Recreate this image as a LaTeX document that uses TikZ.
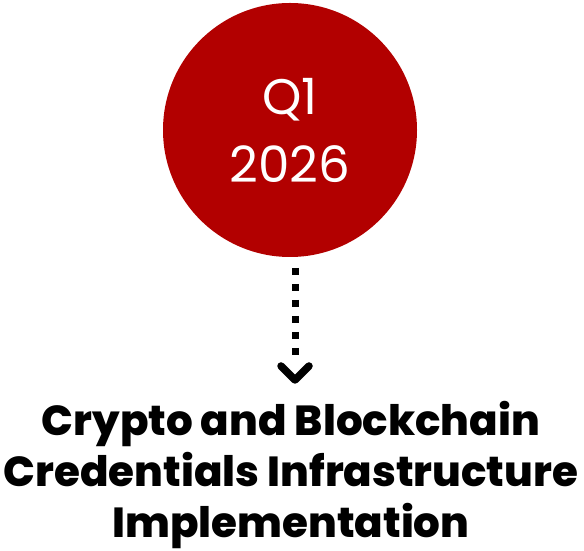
\documentclass[tikz,border=0pt]{standalone}
\usepackage{fontspec}
\setmainfont{Poppins}
\newfontfamily\heavyfont{Poppins ExtraBold}
\usepackage{xcolor}
\usepackage{tikz}
\usetikzlibrary{calc}
\definecolor{quarterred}{HTML}{B20000}
\definecolor{ink}{HTML}{000000}
\tikzset{
  quarter/.style={circle, fill=quarterred, minimum size=254pt, inner sep=0pt,
    text=white, font=\fontsize{50}{68}\selectfont, align=center},
  dotline/.style={draw=ink, line width=7pt, dash pattern=on 7pt off 9pt},
  chevron/.style={draw=ink, line width=7.5pt, line cap=round, line join=round},
  task/.style={text=ink, font=\fontsize{42}{51}\selectfont\heavyfont, align=center}
}

\begin{document}
\begin{tikzpicture}[x=1pt,y=1pt]
  \useasboundingbox (0,0) rectangle (584,551);

  \node[quarter] (q1) at (290,421) {Q1\\2026};

  % dotted connector, chevron drawn on its own
  \coordinate (dtop) at (295,283);
  \coordinate (dend) at (295,195);
  \coordinate (tip) at (295,171);
  \draw[dotline] (dtop) -- (dend);
  \draw[chevron] ($(tip)+(-14,14)$) -- (tip) -- ($(tip)+(14,14)$);

  \node[task] (goal) at (291,76) {Crypto and Blockchain\\Credentials Infrastructure\\Implementation};
\end{tikzpicture}
\end{document}
